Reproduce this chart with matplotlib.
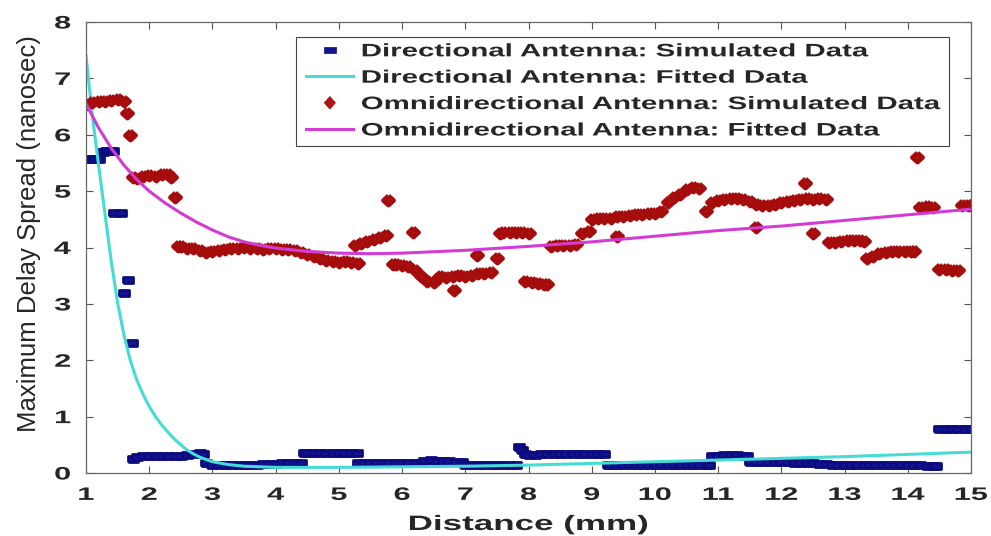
import matplotlib
matplotlib.use("Agg")
import matplotlib.pyplot as plt
from matplotlib.lines import Line2D
from matplotlib.patches import Patch
from matplotlib.text import Text
from matplotlib.patheffects import AbstractPathEffect
from matplotlib.transforms import Affine2D

# directional antenna - simulated data
dir_x = [1.0, 1.05, 1.1, 1.15, 1.2, 1.27, 1.32, 1.37, 1.42, 1.45, 1.55, 1.6, 1.66, 1.73,
         1.75, 1.8, 1.9, 2.0, 2.1, 2.2, 2.3, 2.4, 2.5, 2.6, 2.7, 2.8, 2.85,
         2.9, 3.0, 3.1, 3.2, 3.3, 3.4, 3.5, 3.6, 3.7, 3.8, 3.9, 4.0, 4.1, 4.2, 4.3, 4.4,
         4.45, 4.5, 4.6, 4.7, 4.8, 4.9, 5.0, 5.1, 5.2, 5.28,
         5.3, 5.4, 5.5, 5.6, 5.7, 5.8, 5.9, 6.0, 6.1, 6.2, 6.3,
         6.35, 6.45, 6.55, 6.65, 6.75, 6.85, 6.95,
         7.0, 7.1, 7.2, 7.3, 7.4, 7.5, 7.6, 7.7, 7.8, 7.85, 7.9,
         7.95, 8.0, 8.1, 8.2, 8.3, 8.4, 8.5, 8.6, 8.7, 8.8, 8.9, 9.0, 9.1, 9.2,
         9.25, 9.3, 9.4, 9.5, 9.6, 9.7, 9.8, 9.9, 10.0, 10.1, 10.2, 10.3, 10.4, 10.5, 10.6, 10.7, 10.8, 10.85,
         10.9, 11.0, 11.1, 11.2, 11.3, 11.4, 11.45,
         11.5, 11.6, 11.7, 11.8, 11.9, 12.0, 12.1, 12.2, 12.3, 12.4, 12.5, 12.6, 12.7, 12.8, 12.9,
         13.0, 13.1, 13.2, 13.3, 13.4, 13.5, 13.6, 13.7, 13.8, 13.9, 14.0, 14.1, 14.2, 14.3, 14.4, 14.45,
         14.5, 14.6, 14.7, 14.8, 14.9, 15.0]
dir_y = [5.57, 5.57, 5.57, 5.57, 5.57, 5.70, 5.72, 5.72, 5.72, 4.62, 4.62, 3.20, 3.42, 2.30,
         0.25, 0.28, 0.30, 0.30, 0.30, 0.30, 0.31, 0.31, 0.31, 0.32, 0.33, 0.35, 0.33,
         0.17, 0.15, 0.15, 0.15, 0.15, 0.15, 0.15, 0.15, 0.15, 0.16, 0.16, 0.16, 0.17, 0.18, 0.18, 0.18,
         0.35, 0.36, 0.36, 0.36, 0.36, 0.36, 0.36, 0.36, 0.36, 0.36,
         0.17, 0.17, 0.17, 0.17, 0.17, 0.17, 0.17, 0.17, 0.17, 0.17, 0.18,
         0.22, 0.23, 0.22, 0.22, 0.21, 0.20, 0.19,
         0.15, 0.14, 0.14, 0.14, 0.14, 0.14, 0.14, 0.14, 0.14, 0.46, 0.40,
         0.33, 0.32, 0.32, 0.33, 0.33, 0.33, 0.33, 0.33, 0.33, 0.33, 0.33, 0.34, 0.34, 0.34,
         0.14, 0.14, 0.14, 0.14, 0.14, 0.14, 0.14, 0.14, 0.14, 0.14, 0.14, 0.14, 0.14, 0.14, 0.14, 0.14, 0.15, 0.15,
         0.31, 0.31, 0.32, 0.32, 0.32, 0.31, 0.31,
         0.20, 0.20, 0.20, 0.20, 0.19, 0.19, 0.19, 0.18, 0.18, 0.17, 0.17, 0.16, 0.16, 0.15, 0.15,
         0.15, 0.14, 0.14, 0.14, 0.14, 0.14, 0.14, 0.14, 0.14, 0.14, 0.14, 0.14, 0.14, 0.13, 0.13, 0.13,
         0.78, 0.78, 0.78, 0.78, 0.78, 0.78]

# directional antenna - fitted curve
dfit_x = [1.0, 1.1, 1.2, 1.3, 1.4, 1.5, 1.6, 1.7, 1.8, 1.9, 2.0, 2.1, 2.2, 2.3, 2.4, 2.5, 2.6,
          2.7, 2.8, 2.9, 3.0, 3.25, 3.5, 4.0, 5.0, 6.0, 7.0, 8.0, 9.0, 10.0, 11.0, 12.0, 13.0, 14.0, 15.0]
dfit_y = [7.40, 6.35, 5.45, 4.60, 3.75, 3.02, 2.45, 2.00, 1.66, 1.40, 1.18, 1.00, 0.85, 0.72, 0.60, 0.50, 0.41,
          0.34, 0.28, 0.24, 0.20, 0.15, 0.12, 0.10, 0.10, 0.11, 0.12, 0.14, 0.17, 0.20, 0.23, 0.26, 0.29, 0.33, 0.37]

# omnidirectional antenna - simulated data
omni_x = [1.0, 1.1, 1.2, 1.3, 1.4, 1.5, 1.6, 1.65, 1.7,
          1.75, 1.8, 1.9, 2.0, 2.1, 2.2, 2.3, 2.35, 2.4,
          2.45, 2.5, 2.6, 2.7, 2.8, 2.9, 3.0, 3.1, 3.2, 3.3, 3.4, 3.5, 3.6, 3.7, 3.8, 3.9, 4.0,
          4.1, 4.2, 4.3, 4.4, 4.5, 4.6, 4.7, 4.8, 4.9, 5.0, 5.1, 5.2, 5.3,
          5.25, 5.35, 5.45, 5.55, 5.65, 5.75, 5.78,
          5.85, 5.9, 6.0, 6.1, 6.17, 6.2, 6.3, 6.4, 6.5, 6.55, 6.6, 6.7, 6.8, 6.82, 6.9, 7.0,
          7.1, 7.19, 7.2, 7.3, 7.4, 7.5,
          7.55, 7.6, 7.7, 7.8, 7.9, 8.0, 7.95, 8.05, 8.15, 8.25, 8.3,
          8.35, 8.45, 8.55, 8.65, 8.75, 8.85, 8.95,
          9.0, 9.1, 9.2, 9.3, 9.4, 9.4, 9.5, 9.6, 9.7, 9.8, 9.9, 10.0, 10.1, 10.2, 10.3, 10.4, 10.5, 10.6, 10.7,
          10.8, 10.9, 11.0, 11.1, 11.2, 11.3, 11.4, 11.5, 11.6, 11.6, 11.7, 11.8, 11.9, 12.0, 12.1, 12.2,
          12.3, 12.38, 12.4, 12.5, 12.5, 12.6, 12.7,
          12.75, 12.85, 12.95, 13.05, 13.15, 13.25, 13.3,
          13.35, 13.45, 13.55, 13.65, 13.75, 13.85, 13.95, 14.05, 14.1, 14.15,
          14.2, 14.3, 14.4, 14.5, 14.6, 14.7, 14.8, 14.85, 14.95, 15.0]
omni_y = [6.55, 6.58, 6.60, 6.60, 6.62, 6.63, 6.60, 6.38, 5.99,
          5.25, 5.24, 5.27, 5.28, 5.27, 5.30, 5.30, 5.25, 4.90,
          4.02, 4.02, 4.00, 4.00, 3.95, 3.92, 3.93, 3.96, 3.98, 3.99, 4.00, 4.01, 4.00, 3.99, 3.98, 4.00, 3.99,
          3.97, 3.97, 3.95, 3.92, 3.88, 3.85, 3.82, 3.78, 3.76, 3.75, 3.76, 3.74, 3.72,
          4.05, 4.08, 4.12, 4.15, 4.18, 4.22, 4.84,
          3.70, 3.70, 3.69, 3.68, 4.28, 3.60, 3.50, 3.40, 3.38, 3.45, 3.50, 3.48, 3.50, 3.25, 3.52, 3.50,
          3.52, 3.87, 3.54, 3.55, 3.57, 3.81,
          4.25, 4.27, 4.28, 4.28, 4.27, 4.25, 3.40, 3.38, 3.37, 3.36, 3.35,
          4.03, 4.04, 4.05, 4.05, 4.07, 4.25, 4.30,
          4.50, 4.52, 4.53, 4.52, 4.55, 4.20, 4.56, 4.58, 4.60, 4.60, 4.62, 4.62, 4.65, 4.80, 4.90, 4.95, 5.03, 5.07, 5.05,
          4.65, 4.80, 4.85, 4.86, 4.87, 4.87, 4.86, 4.83, 4.78, 4.37, 4.76, 4.75, 4.77, 4.80, 4.82, 4.84,
          4.86, 5.14, 4.87, 4.86, 4.25, 4.87, 4.86,
          4.10, 4.10, 4.12, 4.13, 4.13, 4.13, 4.12,
          3.82, 3.85, 3.90, 3.92, 3.93, 3.93, 3.93, 3.93, 3.93, 5.60,
          4.72, 4.73, 4.72, 3.62, 3.62, 3.60, 3.60, 4.75, 4.76, 4.75]

# omnidirectional antenna - fitted curve
ofit_x = [1.0, 1.2, 1.4, 1.6, 1.8, 2.0, 2.25, 2.5, 2.75, 3.0, 3.25, 3.5, 3.75, 4.0, 4.5, 5.0, 5.5, 6.0,
          7.0, 8.0, 9.0, 10.0, 11.0, 12.0, 13.0, 14.0, 15.0]
ofit_y = [6.55, 6.12, 5.76, 5.46, 5.21, 5.00, 4.79, 4.61, 4.45, 4.31, 4.19, 4.10, 4.04, 3.99, 3.93, 3.90, 3.89, 3.90,
          3.95, 4.02, 4.10, 4.20, 4.30, 4.38, 4.48, 4.58, 4.68]

labels = ["Directional Antenna: Simulated Data",
          "Directional Antenna: Fitted Data",
          "Omnidirectional Antenna: Simulated Data",
          "Omnidirectional Antenna: Fitted Data"]
xticks = list(range(1, 16))
yticks = list(range(0, 9))


class HStretch(AbstractPathEffect):
    # the source picture is squeezed sideways, so widen glyphs about an anchor
    def __init__(self, sx, anchor="center"):
        super().__init__()
        self.sx = sx
        self.anchor = anchor

    def draw_path(self, renderer, gc, tpath, affine, rgbFace=None):
        if isinstance(self.anchor, str):
            ext = tpath.get_extents(affine)
            x0 = {"center": (ext.x0 + ext.x1) / 2, "left": ext.x0, "right": ext.x1}[self.anchor]
        else:
            x0 = self.anchor
        st = Affine2D().translate(-x0, 0).scale(self.sx, 1).translate(x0, 0)
        renderer.draw_path(gc, tpath, affine + st, rgbFace)


W, H = 991, 536
fig = plt.figure(figsize=(W / 100, H / 100), dpi=100)
ax = fig.add_axes([86 / W, 1 - 473 / H, 885 / W, 451 / H])

blue_mk = [(-1.5, -1), (1.5, -1), (1.5, 1), (-1.5, 1), (-1.5, -1)]
dia_mk = [(0, 1), (1.1, 0), (0, -1), (-1.1, 0), (0, 1)]

ax.plot(dir_x, dir_y, ls="none", marker=blue_mk, ms=7, mfc="#14148f", mec="#0c0c80", mew=2.0)
ax.plot(dfit_x, dfit_y, color="#45dcd6", lw=2.2)
ax.plot(omni_x, omni_y, ls="none", marker=dia_mk, ms=7.5, mfc="#b31212", mec="#a50d0d", mew=3.2)
ax.plot(ofit_x, ofit_y, color="#d33cd3", lw=2.2)

ax.set_xlim(1, 15)
ax.set_ylim(0, 8)
tick_font = dict(family="Liberation Sans", fontsize=13, fontweight="bold", color="#262626")
ax.set_xticks(xticks, labels=[str(t) for t in xticks], **tick_font)
ax.set_yticks(yticks, labels=[str(t) for t in yticks], **tick_font)
ax.tick_params(direction="in", top=True, right=True, length=5, width=0.8, color="#555555")
ax.tick_params(axis="x", pad=10)
ax.tick_params(axis="y", pad=11)
for sp in ax.spines.values():
    sp.set_color("#666666")
    sp.set_linewidth(0.9)
for lab in ax.get_xticklabels():
    lab.set_path_effects([HStretch(1.7, "center")])
for lab in ax.get_yticklabels():
    lab.set_path_effects([HStretch(1.7, "right")])

xl = ax.set_xlabel("Distance (mm)", family="Liberation Sans", fontsize=15, fontweight="bold",
                   color="#262626", labelpad=8)
xl.set_path_effects([HStretch(1.68, "center")])
ax.set_ylabel("Maximum Delay Spread (nanosec)", family="Liberation Sans", fontsize=18.5,
              color="#262626", va="center")
ax.yaxis.set_label_coords(-0.0644, 0.532)

handles = [
    Line2D([], [], ls="none", marker="s", ms=5, mfc="#14148f", mec="#0c0c80", mew=0.5),
    Line2D([], [], color="#45dcd6", lw=2.2),
    Line2D([], [], ls="none", marker=[(0, 1), (0.55, 0), (0, -1), (-0.55, 0), (0, 1)], ms=9,
           mfc="#b31212", mec="#a50d0d", mew=0.5),
    Line2D([], [], color="#d33cd3", lw=2.2),
]
leg_left = 296
leg = ax.legend(handles, labels, loc="upper left", bbox_to_anchor=(leg_left / W, 1 - 37 / H),
                bbox_transform=fig.transFigure, borderaxespad=0, borderpad=0.35,
                handlelength=1.6, handletextpad=0.25, labelspacing=0.52, fancybox=False,
                framealpha=1, edgecolor="#444444",
                prop=dict(family="Liberation Sans", size=13, weight="bold"))
leg.get_frame().set_linewidth(0.8)
for t in leg.get_texts():
    t.set_color("#262626")
for art in leg.findobj(lambda a: isinstance(a, (Text, Line2D, Patch))):
    art.set_path_effects([HStretch(1.63, leg_left)])

fig.savefig("out.png", dpi=100, facecolor="white")
